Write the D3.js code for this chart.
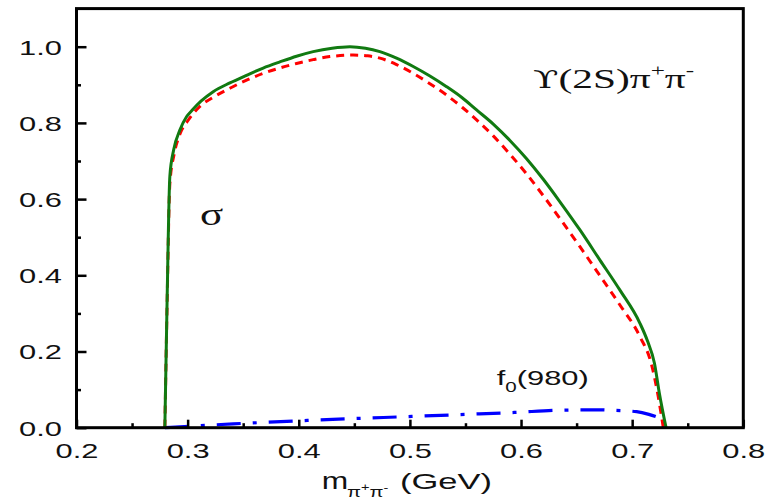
<!DOCTYPE html>
<html>
<head>
<meta charset="utf-8">
<script src="https://cdn.jsdelivr.net/npm/d3@7"></script>
<style>
  html, body { margin: 0; padding: 0; background: #fff; }
  svg { display: block; }
</style>
</head>
<body>
<svg id="chart" width="776" height="502"></svg>
<script>
// ---- data ----
const totalMass = [0.2795, 0.2815, 0.284, 0.2875, 0.293, 0.299, 0.304, 0.312, 0.323, 0.338, 0.353, 0.368, 0.383, 0.398, 0.413, 0.430, 0.446, 0.460, 0.473, 0.488, 0.503, 0.518, 0.533, 0.547, 0.560, 0.575, 0.590, 0.605, 0.620, 0.635, 0.653, 0.671, 0.689, 0.707, 0.714, 0.720, 0.7245, 0.7305];
const totalVal  = [0.0, 0.33, 0.66, 0.73, 0.781, 0.816, 0.833, 0.857, 0.882, 0.905, 0.925, 0.944, 0.960, 0.975, 0.987, 0.996, 1.000, 0.996, 0.987, 0.970, 0.948, 0.923, 0.895, 0.866, 0.834, 0.797, 0.754, 0.706, 0.652, 0.593, 0.519, 0.440, 0.361, 0.274, 0.226, 0.170, 0.090, 0.0];

const sigmaMass = [0.2795, 0.2815, 0.284, 0.288, 0.293, 0.300, 0.311, 0.324, 0.338, 0.353, 0.368, 0.383, 0.398, 0.413, 0.428, 0.449, 0.462, 0.473, 0.488, 0.503, 0.518, 0.533, 0.547, 0.560, 0.575, 0.590, 0.605, 0.620, 0.635, 0.653, 0.671, 0.689, 0.707, 0.7175, 0.7235, 0.728];
const sigmaVal  = [0.0, 0.32, 0.64, 0.72, 0.77, 0.805, 0.843, 0.869, 0.891, 0.912, 0.930, 0.944, 0.956, 0.966, 0.974, 0.978, 0.976, 0.970, 0.953, 0.930, 0.903, 0.873, 0.841, 0.808, 0.766, 0.718, 0.666, 0.609, 0.549, 0.475, 0.399, 0.322, 0.239, 0.165, 0.081, 0.0];

const f0Mass = [0.2795, 0.341, 0.400, 0.450, 0.497, 0.550, 0.594, 0.635, 0.671, 0.680, 0.704, 0.715, 0.725];
const f0Val  = [0.0, 0.010, 0.018, 0.024, 0.029, 0.035, 0.040, 0.046, 0.047, 0.046, 0.042, 0.035, 0.025];

const xTicks = [0.2, 0.3, 0.4, 0.5, 0.6, 0.7, 0.8];
const xMinor = [0.25, 0.35, 0.45, 0.55, 0.65, 0.75];
const yTicks = [0.0, 0.2, 0.4, 0.6, 0.8, 1.0];
const yMinor = [0.1, 0.3, 0.5, 0.7, 0.9];

const xLabel = "m";
const xLabelSub = ["π", "+", "π", "-"];
const xLabelUnit = "(GeV)";
const titleMain = ["ϒ", "(2S)π"];
const sigmaLabel = "σ";
const f0Label = ["f", "0", "(980)"];

// ---- layout ----
const svg = d3.select("#chart");
const L = 76.5, R = 743.3, T = 8.6, B = 427.7;
const SX = 1.47; // horizontal stretch of the lettering in the reference

const x = d3.scaleLinear().domain([0.2, 0.8]).range([L, R]);
const y = d3.scaleLinear().domain([0, 1.1]).range([B, T]);

const sans = "'Liberation Sans', Arial, sans-serif";
const serif = "'Liberation Serif', 'Times New Roman', 'DejaVu Serif', serif";

// ---- curves ----
const line = d3.line().x(d => x(d[0])).y(d => y(d[1])).curve(d3.curveMonotoneX);

const plot = svg.append("g");
plot.append("path")
  .datum(f0Mass.map((m, i) => [m, f0Val[i]]))
  .attr("d", line).attr("fill", "none")
  .attr("stroke", "#0000ff").attr("stroke-width", 3.2)
  .attr("stroke-dasharray", "24,12,4,12");

plot.append("path")
  .datum(sigmaMass.map((m, i) => [m, sigmaVal[i]]))
  .attr("d", line).attr("fill", "none")
  .attr("stroke", "#ff0000").attr("stroke-width", 3)
  .attr("stroke-dasharray", "8,6");

plot.append("path")
  .datum(totalMass.map((m, i) => [m, totalVal[i]]))
  .attr("d", line).attr("fill", "none")
  .attr("stroke", "#117a11").attr("stroke-width", 3);

// ---- axes ----
function styleAxis(g) {
  g.select(".domain").remove();
  g.selectAll(".tick line").attr("stroke", "#000").attr("stroke-width", 2.5);
}
const xAxis = svg.append("g").attr("transform", `translate(0,${B})`)
  .call(d3.axisBottom(x).tickValues(xTicks).tickSize(-8).tickFormat(d3.format(".1f")))
  .call(styleAxis);
svg.append("g").attr("transform", `translate(0,${B})`)
  .call(d3.axisBottom(x).tickValues(xMinor).tickSize(-4.5).tickFormat(""))
  .call(styleAxis);
const yAxis = svg.append("g").attr("transform", `translate(${L},0)`)
  .call(d3.axisLeft(y).tickValues(yTicks).tickSize(-10).tickFormat(d3.format(".1f")))
  .call(styleAxis);
svg.append("g").attr("transform", `translate(${L},0)`)
  .call(d3.axisLeft(y).tickValues(yMinor).tickSize(-4.5).tickFormat(""))
  .call(styleAxis);

xAxis.selectAll(".tick text")
  .attr("x", 0).attr("y", 0).attr("dy", null)
  .attr("transform", `translate(0,30.5) scale(${SX},1)`)
  .attr("font-family", sans).attr("font-size", 21).attr("fill", "#111")
  .attr("text-anchor", "middle");
yAxis.selectAll(".tick text")
  .attr("x", 0).attr("y", 0).attr("dy", "0.35em")
  .attr("transform", `translate(-14.5,0) scale(${SX},1)`)
  .attr("font-family", sans).attr("font-size", 21).attr("fill", "#111")
  .attr("text-anchor", "end");

// frame
svg.append("rect")
  .attr("x", L).attr("y", T).attr("width", R - L).attr("height", B - T)
  .attr("fill", "none").attr("stroke", "#000").attr("stroke-width", 3);

// ---- text helpers ----
function stretched(px, py, sx) {
  return svg.append("g").attr("transform", `translate(${px},${py}) scale(${sx},1)`);
}

// x-axis title
stretched(321.7, 489, 1.38).append("text")
  .attr("font-family", sans).attr("font-size", 23).attr("fill", "#111")
  .text(xLabel);
const sub = stretched(347, 497, 1.45).append("text")
  .attr("font-family", sans).attr("fill", "#111");
sub.append("tspan").attr("font-size", 14).text(xLabelSub[0]);
sub.append("tspan").attr("font-size", 10).attr("dy", -6).text(xLabelSub[1]);
sub.append("tspan").attr("font-size", 14).attr("dy", 6).text(xLabelSub[2]);
sub.append("tspan").attr("font-size", 10).attr("dy", -6).text(xLabelSub[3]);
stretched(400, 489, 1.5).append("text")
  .attr("font-family", sans).attr("font-size", 23).attr("fill", "#111")
  .text(xLabelUnit);

// Upsilon(2S) pi+ pi- label
const ttl = stretched(533, 88.3, 1.48).append("text")
  .attr("font-family", serif).attr("font-size", 28).attr("fill", "#111");
ttl.append("tspan").attr("font-family", "'DejaVu Serif', serif").attr("font-size", 25).text(titleMain[0]);
ttl.append("tspan").text(titleMain[1]);
ttl.append("tspan").attr("font-size", 17).attr("dy", -12).text("+");
ttl.append("tspan").attr("font-size", 28).attr("dy", 12).text("π");
ttl.append("tspan").attr("font-size", 17).attr("dy", -12).text("-");

// sigma label
stretched(200, 225, 1.35).append("text")
  .attr("font-family", serif).attr("font-size", 32).attr("fill", "#111")
  .text(sigmaLabel);

// f0(980) label
const f0 = stretched(496.7, 385, SX).append("text")
  .attr("font-family", sans).attr("font-size", 21).attr("fill", "#111");
f0.append("tspan").text(f0Label[0]);
f0.append("tspan").attr("font-size", 14).attr("dy", 7).text(f0Label[1]);
f0.append("tspan").attr("font-size", 21).attr("dy", -7).text(f0Label[2]);
</script>
</body>
</html>
